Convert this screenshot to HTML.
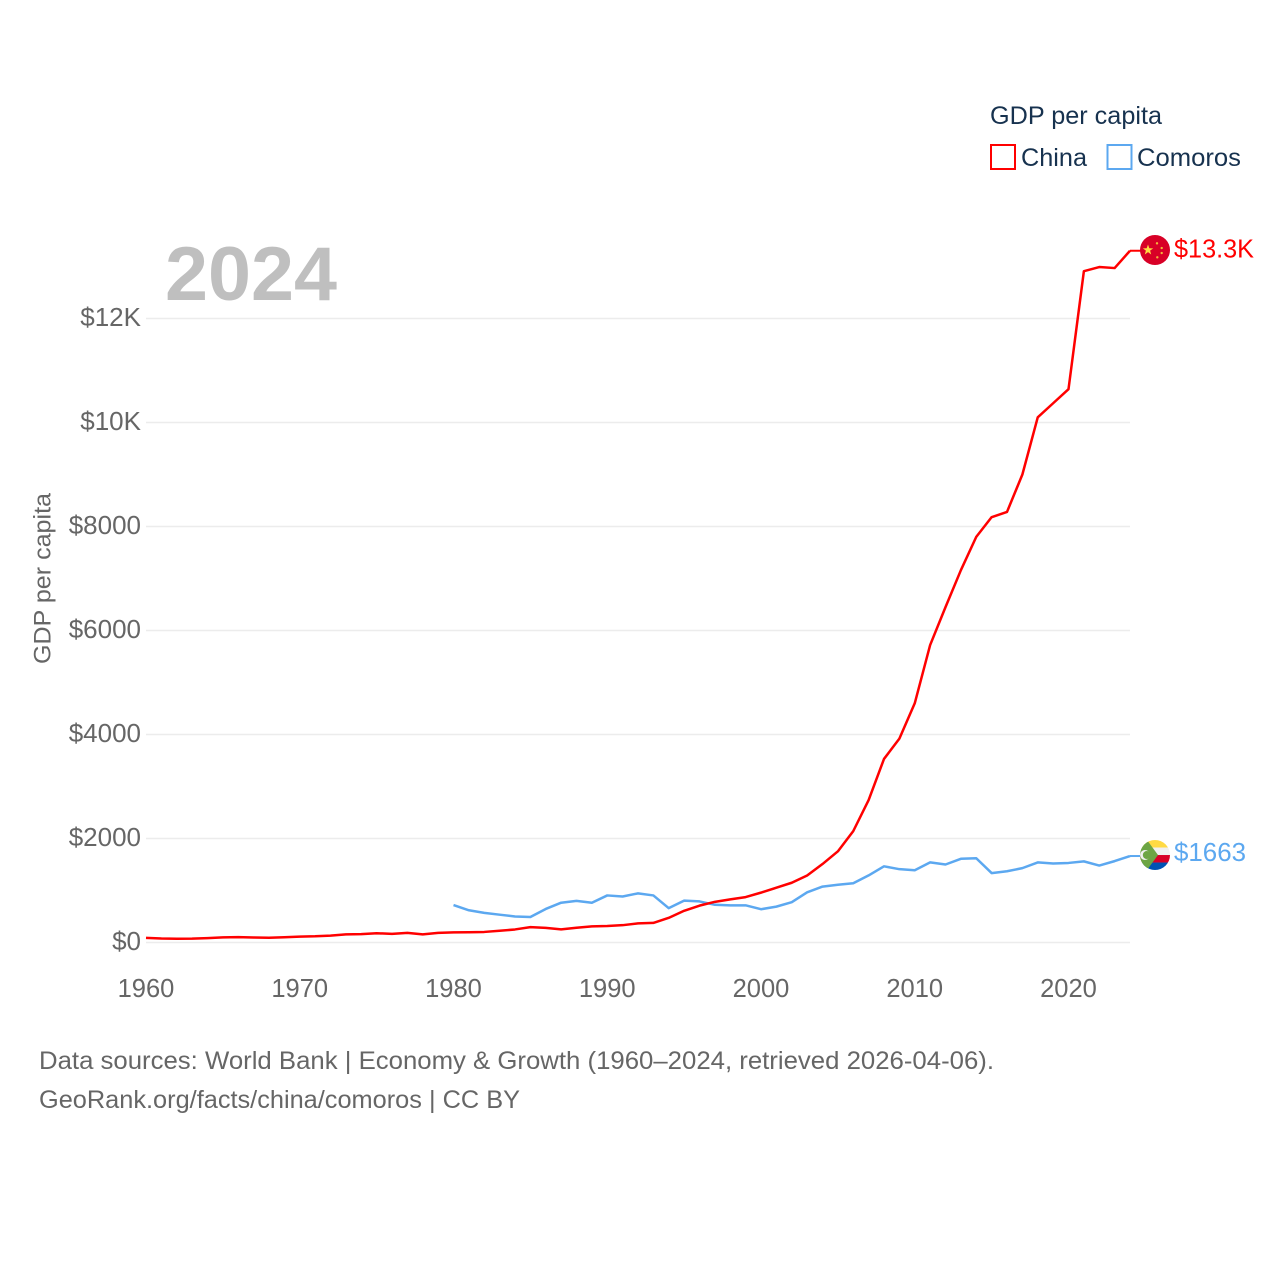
<!DOCTYPE html>
<html lang="en">
<head>
<meta charset="utf-8">
<title>GDP per capita: China vs Comoros</title>
<style>
html,body{margin:0;padding:0;background:#fff;}
svg{display:block;}
text{font-family:"Liberation Sans",sans-serif;}
</style>
</head>
<body>
<svg id="chart" xmlns="http://www.w3.org/2000/svg" width="1280" height="1280" viewBox="0 0 1280 1280">
  <defs>
    <clipPath id="flag-clip-circle"><circle cx="0" cy="0" r="15"/></clipPath>
  </defs>
  <g id="grid"></g>
  <text x="165" y="300" font-size="76" font-weight="700" fill="#bfbfbf" textLength="172" lengthAdjust="spacingAndGlyphs">2024</text>
  <g id="y-labels"></g>
  <g id="x-labels"></g>
  <text transform="translate(50.5 578.5) rotate(-90)" text-anchor="middle" font-size="24.5" fill="#666" textLength="171" lengthAdjust="spacingAndGlyphs">GDP per capita</text>
  <g id="series"></g>
  <g id="end-labels"></g>

  <g>
    <text x="990" y="124" font-size="25" fill="#17324f" textLength="172" lengthAdjust="spacingAndGlyphs">GDP per capita</text>
    <rect x="991" y="145" width="24" height="24" fill="none" stroke="#ff0000" stroke-width="2"/>
    <text x="1021" y="166" font-size="25" fill="#17324f" textLength="66" lengthAdjust="spacingAndGlyphs">China</text>
    <rect x="1107.500" y="145" width="24" height="24" fill="none" stroke="#5ca8f0" stroke-width="2"/>
    <text x="1137" y="166" font-size="25" fill="#17324f" textLength="104" lengthAdjust="spacingAndGlyphs">Comoros</text>
  </g>

  <text x="39" y="1069" font-size="25" fill="#666" textLength="955" lengthAdjust="spacingAndGlyphs">Data sources: World Bank | Economy &amp; Growth (1960–2024, retrieved 2026-04-06).</text>
  <text x="39" y="1108" font-size="25" fill="#666" textLength="481" lengthAdjust="spacingAndGlyphs">GeoRank.org/facts/china/comoros | CC BY</text>
</svg>
<script>
const years = [1960,1961,1962,1963,1964,1965,1966,1967,1968,1969,1970,1971,1972,1973,1974,1975,1976,1977,1978,1979,1980,1981,1982,1983,1984,1985,1986,1987,1988,1989,1990,1991,1992,1993,1994,1995,1996,1997,1998,1999,2000,2001,2002,2003,2004,2005,2006,2007,2008,2009,2010,2011,2012,2013,2014,2015,2016,2017,2018,2019,2020,2021,2022,2023,2024];
const chinaValues = [90,76,71,74,85,98,104,97,92,100,113,119,132,157,160,178,165,185,156,184,195,197,203,225,251,295,282,252,284,311,318,333,367,377,474,610,709,782,829,873,959,1053,1149,1289,1509,1753,2142,2740,3530,3920,4600,5720,6450,7160,7800,8180,8280,9000,10100,10370,10640,12910,12990,12970,13303];
const comorosYears = [1980,1981,1982,1983,1984,1985,1986,1987,1988,1989,1990,1991,1992,1993,1994,1995,1996,1997,1998,1999,2000,2001,2002,2003,2004,2005,2006,2007,2008,2009,2010,2011,2012,2013,2014,2015,2016,2017,2018,2019,2020,2021,2022,2023,2024];
const comorosValues = [720,620,570,535,500,490,645,765,800,765,905,885,945,905,660,805,790,725,715,715,640,690,775,965,1075,1110,1140,1290,1465,1410,1390,1540,1500,1610,1620,1335,1370,1430,1540,1520,1530,1560,1480,1565,1663];
const yTickValues = [0,2000,4000,6000,8000,10000,12000];
const yTickLabels = ["$0","$2000","$4000","$6000","$8000","$10K","$12K"];
const xTickValues = [1960,1970,1980,1990,2000,2010,2020];
const xTickLabels = ["1960","1970","1980","1990","2000","2010","2020"];
const endValueLabels = ["$13.3K","$1663"];

const SVG_NS = "http://www.w3.org/2000/svg";
const RED = "#ff0000";
const BLUE = "#5ca8f0";
function xScale(year){ return 146 + (year - 1960) * 15.375; }
function yScale(value){ return 942.5 - value * 0.052; }
function make(tag, attrs, parent){
  const el = document.createElementNS(SVG_NS, tag);
  for (const k in attrs) el.setAttribute(k, attrs[k]);
  parent.appendChild(el);
  return el;
}

const gridG = document.getElementById("grid");
const yLabelG = document.getElementById("y-labels");
yTickValues.forEach(function(v, i){
  const line = make("line", {x1:146, x2:1130, y1:yScale(v), y2:yScale(v), stroke:"#ececec", "stroke-width":1.5}, gridG);
  
  
  const t = make("text", {x:141, y:yScale(v)+7.5, "text-anchor":"end", "font-size":26, fill:"#666"}, yLabelG);
  t.textContent = yTickLabels[i];
  
  
});

const xLabelG = document.getElementById("x-labels");
xTickValues.forEach(function(v, i){
  const t = make("text", {x:xScale(v), y:997, "text-anchor":"middle", "font-size":25.5, fill:"#666"}, xLabelG);
  t.textContent = xTickLabels[i];
  
  
});

function linePoints(xs, vs){
  return xs.map(function(x, i){ return xScale(x).toFixed(2) + "," + yScale(vs[i]).toFixed(2); }).join(" ");
}
const seriesG = document.getElementById("series");

const comorosLine = make("polyline", {points:linePoints(comorosYears, comorosValues), fill:"none", stroke:BLUE, "stroke-width":2.5, "stroke-linejoin":"round"}, seriesG);



const chinaLine = make("polyline", {points:linePoints(years, chinaValues), fill:"none", stroke:RED, "stroke-width":2.5, "stroke-linejoin":"round"}, seriesG);



const endG = document.getElementById("end-labels");
const lastX = xScale(2024);
const chinaEndY = yScale(chinaValues[chinaValues.length - 1]);
const comorosEndY = yScale(comorosValues[comorosValues.length - 1]);

const chinaConn = make("line", {x1:lastX, x2:1141, y1:chinaEndY, y2:chinaEndY, stroke:RED, "stroke-width":2}, endG);


const comorosConn = make("line", {x1:lastX, x2:1141, y1:comorosEndY, y2:comorosEndY, stroke:BLUE, "stroke-width":2}, endG);



const chinaFlag = make("g", {transform:"translate(1155 " + (chinaEndY - 0.7) + ")"}, endG);


make("circle", {r:15, fill:"#d80027"}, chinaFlag);
make("polygon", {points:"-7,-5.5 -5.7,-1.8 -1.8,-1.7 -4.9,0.6 -3.8,4.4 -7,2.1 -10.2,4.4 -9.1,0.6 -12.2,-1.7 -8.3,-1.8", fill:"#ffda44"}, chinaFlag);
[[2,-6.7],[6.7,-2],[6.7,3],[2.3,7.3]].forEach(function(p){
  const dot = make("circle", {cx:p[0], cy:p[1], r:1.2, fill:"#f4b63c"}, chinaFlag);
  
  
});

const comorosFlag = make("g", {transform:"translate(1155 " + (comorosEndY - 1) + ")", "clip-path":"url(#flag-clip-circle)"}, endG);


make("rect", {x:-15, y:-15, width:30, height:7.500, fill:"#ffda44"}, comorosFlag);
make("rect", {x:-15, y:-7.500, width:30, height:7.500, fill:"#f0f0f0"}, comorosFlag);
make("rect", {x:-15, y:0, width:30, height:7.500, fill:"#d80027"}, comorosFlag);
make("rect", {x:-15, y:7.500, width:30, height:7.500, fill:"#0052b4"}, comorosFlag);
make("polygon", {points:"-15,-15 -8,-15 3,0 -8,15 -15,15", fill:"#6da544"}, comorosFlag);
make("circle", {cx:-10, cy:0, r:5, fill:"#f0f0f0"}, comorosFlag);
make("circle", {cx:-8.200, cy:0, r:4, fill:"#6da544"}, comorosFlag);

const chinaEnd = make("text", {x:1174, y:chinaEndY+7, "font-size":25.5, fill:RED, textLength:80, lengthAdjust:"spacingAndGlyphs"}, endG);
chinaEnd.textContent = endValueLabels[0];


const comorosEnd = make("text", {x:1174, y:comorosEndY+5, "font-size":25.5, fill:BLUE, textLength:72, lengthAdjust:"spacingAndGlyphs"}, endG);
comorosEnd.textContent = endValueLabels[1];


</script>
</body>
</html>
